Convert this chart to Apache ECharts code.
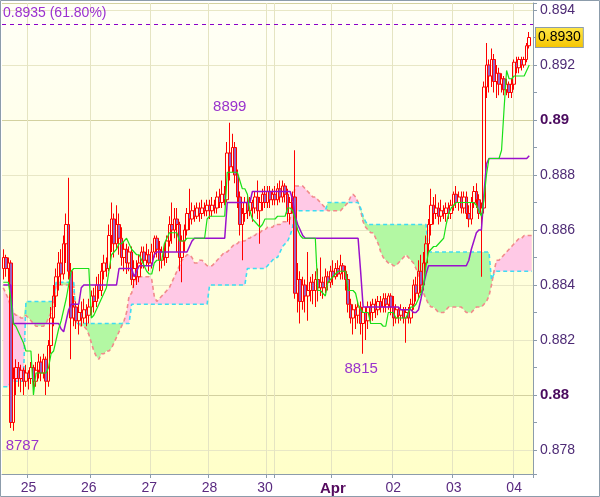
<!DOCTYPE html>
<html><head><meta charset="utf-8">
<script src="https://cdn.jsdelivr.net/npm/echarts@6/dist/echarts.min.js"></script>
<style>html,body{margin:0;padding:0;background:#fff}#c{width:600px;height:497px}</style>
</head><body><div id="c"></div>
<script>
// ---- data ----
const dayLabels = ['25','26','27','28','30','Apr','02','03','04'];
const dayLabelIndex = [10,34,58,82,104,131,155,179,203];
const dayLineIndex = [10,35,59,82,105,108,131,155,179,203];
const boldDayLabels = ['Apr'];
const yLabels = ['0.894','0.892','0.89','0.888','0.886','0.884','0.882','0.88','0.878'];
const boldYLabels = ['0.89','0.88'];
const fibLevel = 0.8935;
const fibText = '0.8935 (61.80%)';
// [open, close, low, high]
const candles = [
[.8846,.8850,.8842,.8853],[.8850,.8846,.8843,.8851],[.8846,.8848,.8841,.8850],[.8848,.8790,.8788,.8849],[.8790,.8806,.8787,.8810],
[.8806,.8810,.8800,.8813],[.8810,.8806,.8803,.8812],[.8806,.8809,.8801,.8811],[.8809,.8805,.8800,.8810],[.8805,.8808,.8803,.8811],
[.8808,.8806,.8802,.8809],[.8806,.8810,.8804,.8812],[.8810,.8805,.8800,.8811],[.8805,.8809,.8803,.8812],[.8809,.8812,.8806,.8815],
[.8812,.8808,.8805,.8814],[.8808,.8813,.8806,.8815],[.8813,.8805,.8800,.8814],[.8805,.8818,.8803,.8820],[.8818,.8828,.8815,.8832],
[.8828,.8836,.8825,.8840],[.8836,.8843,.8832,.8846],[.8843,.8848,.8838,.8852],[.8848,.8844,.8840,.8853],[.8844,.8855,.8842,.8858],
[.8855,.8862,.8848,.8866],[.8862,.8845,.8842,.8879],[.8845,.8828,.8813,.8848],[.8828,.8832,.8825,.8836],[.8832,.8827,.8824,.8834],
[.8827,.8830,.8822,.8833],[.8830,.8828,.8825,.8834],[.8828,.8831,.8826,.8835],[.8831,.8829,.8825,.8833],[.8829,.8832,.8826,.8835],
[.8832,.8836,.8829,.8838],[.8836,.8834,.8830,.8839],[.8834,.8840,.8832,.8843],[.8840,.8838,.8835,.8844],[.8838,.8845,.8836,.8848],
[.8845,.8848,.8842,.8851],[.8848,.8846,.8843,.8850],[.8846,.8858,.8845,.8862],[.8858,.8864,.8852,.8870],[.8864,.8855,.8850,.8866],
[.8855,.8862,.8853,.8869],[.8862,.8857,.8851,.8866],[.8857,.8850,.8847,.8861],[.8850,.8853,.8845,.8856],[.8853,.8848,.8844,.8855],
[.8848,.8852,.8845,.8854],[.8852,.8842,.8840,.8854],[.8842,.8846,.8839,.8849],[.8846,.8843,.8840,.8849],[.8843,.8848,.8841,.8851],
[.8848,.8852,.8846,.8854],[.8852,.8849,.8846,.8854],[.8849,.8851,.8847,.8855],[.8851,.8848,.8845,.8853],[.8848,.8852,.8846,.8855],
[.8852,.8857,.8850,.8858],[.8857,.8853,.8850,.8858],[.8853,.8849,.8845,.8856],[.8849,.8852,.8846,.8854],[.8852,.8850,.8847,.8855],
[.8850,.8856,.8848,.8858],[.8856,.8862,.8854,.8865],[.8862,.8860,.8855,.8870],[.8860,.8864,.8857,.8868],[.8864,.8862,.8852,.8868],
[.8862,.8850,.8845,.8863],[.8850,.8856,.8841,.8858],[.8856,.8860,.8852,.8862],[.8860,.8866,.8858,.8868],[.8866,.8864,.8860,.8875],
[.8864,.8867,.8862,.8870],[.8867,.8865,.8863,.8869],[.8865,.8868,.8864,.8870],[.8868,.8866,.8863,.8870],[.8866,.8868,.8864,.8871],
[.8868,.8867,.8865,.8870],[.8867,.8869,.8865,.8871],[.8869,.8867,.8864,.8871],[.8867,.8869,.8865,.8872],[.8869,.8868,.8866,.8871],
[.8868,.8872,.8866,.8874],[.8872,.8870,.8868,.8875],[.8870,.8873,.8868,.8878],[.8873,.8871,.8869,.8876],[.8871,.8888,.8870,.8892],
[.8888,.8883,.8878,.8899],[.8883,.8890,.8881,.8895],[.8890,.8880,.8877,.8892],[.8880,.8872,.8868,.8882],[.8872,.8862,.8858,.8874],
[.8862,.8866,.8849,.8868],[.8866,.8870,.8863,.8872],[.8870,.8867,.8864,.8873],[.8867,.8870,.8865,.8872],[.8870,.8868,.8863,.8871],
[.8868,.8872,.8866,.8874],[.8872,.8867,.8864,.8878],[.8867,.8870,.8855,.8872],[.8870,.8873,.8867,.8875],[.8873,.8870,.8868,.8876],
[.8870,.8874,.8868,.8876],[.8874,.8871,.8868,.8876],[.8871,.8873,.8869,.8875],[.8873,.8871,.8869,.8876],[.8871,.8875,.8869,.8877],
[.8875,.8872,.8870,.8878],[.8872,.8876,.8870,.8878],[.8876,.8873,.8870,.8877],[.8873,.8866,.8863,.8875],[.8866,.8870,.8862,.8872],
[.8870,.8872,.8866,.8874],[.8872,.8837,.8835,.8889],[.8837,.8842,.8830,.8848],[.8842,.8834,.8826,.8845],[.8834,.8840,.8831,.8843],
[.8840,.8836,.8830,.8842],[.8836,.8838,.8827,.8852],[.8838,.8841,.8834,.8843],[.8841,.8838,.8833,.8844],[.8838,.8842,.8832,.8845],
[.8842,.8839,.8834,.8846],[.8839,.8841,.8836,.8850],[.8841,.8839,.8835,.8843],[.8839,.8843,.8837,.8846],[.8843,.8841,.8838,.8845],
[.8841,.8845,.8839,.8847],[.8845,.8843,.8840,.8849],[.8843,.8846,.8842,.8848],[.8846,.8844,.8843,.8849],[.8844,.8847,.8842,.8851],
[.8847,.8845,.8842,.8848],[.8845,.8842,.8838,.8847],[.8842,.8833,.8830,.8844],[.8833,.8828,.8826,.8835],[.8828,.8831,.8822,.8833],
[.8831,.8829,.8824,.8833],[.8829,.8832,.8826,.8834],[.8832,.8826,.8822,.8834],[.8826,.8830,.8815,.8832],[.8830,.8827,.8820,.8832],
[.8827,.8832,.8824,.8834],[.8832,.8830,.8826,.8834],[.8830,.8833,.8827,.8835],[.8833,.8831,.8828,.8835],[.8831,.8834,.8829,.8836],
[.8834,.8832,.8830,.8836],[.8832,.8835,.8830,.8837],[.8835,.8833,.8830,.8837],[.8833,.8836,.8831,.8837],[.8836,.8832,.8829,.8837],
[.8832,.8828,.8825,.8836],[.8828,.8831,.8826,.8833],[.8831,.8829,.8826,.8832],[.8829,.8831,.8827,.8833],[.8831,.8828,.8826,.8832],
[.8828,.8830,.8819,.8832],[.8830,.8828,.8826,.8832],[.8828,.8833,.8826,.8835],[.8833,.8840,.8831,.8842],[.8840,.8837,.8834,.8843],
[.8837,.8845,.8835,.8849],[.8845,.8840,.8837,.8851],[.8840,.8848,.8838,.8852],[.8848,.8855,.8845,.8858],[.8855,.8862,.8852,.8864],
[.8862,.8869,.8858,.8875],[.8869,.8866,.8862,.8872],[.8866,.8868,.8864,.8873],[.8868,.8865,.8862,.8870],[.8865,.8867,.8863,.8871],
[.8867,.8866,.8864,.8869],[.8866,.8868,.8863,.8870],[.8868,.8866,.8864,.8870],[.8866,.8869,.8864,.8871],[.8869,.8873,.8867,.8874],
[.8873,.8870,.8868,.8876],[.8870,.8872,.8867,.8874],[.8872,.8868,.8866,.8874],[.8868,.8872,.8866,.8874],[.8872,.8866,.8864,.8874],
[.8866,.8864,.8861,.8869],[.8864,.8870,.8862,.8872],[.8870,.8874,.8868,.8876],[.8874,.8871,.8868,.8877],[.8871,.8866,.8864,.8873],
[.8866,.8868,.8843,.8870],[.8868,.8912,.8866,.8914],[.8912,.8920,.8908,.8928],[.8920,.8916,.8910,.8922],[.8916,.8922,.8912,.8926],
[.8922,.8914,.8910,.8924],[.8914,.8917,.8908,.8920],[.8917,.8913,.8909,.8919],[.8913,.8915,.8910,.8917],[.8915,.8911,.8909,.8916],
[.8911,.8913,.8909,.8915],[.8913,.8910,.8908,.8914],[.8910,.8913,.8908,.8915],[.8913,.8921,.8911,.8922],[.8921,.8919,.8917,.8923],
[.8919,.8922,.8917,.8923],[.8922,.8920,.8918,.8923],[.8920,.8922,.8919,.8923],[.8922,.8927,.8921,.8928],[.8927,.8930,.8926,.8932]
];
const tenkan = [
.8841,.8841,.8841,.8835,.8826,.8825,.8823,.8821,.8819,.8816,
.8816,.8816,.8800,.8808,.8808,.8808,.8808,.8808,.8810,.8815,
.8816,.8820,.8824,.8827,.8831,.8835,.8840,.8845,.8846,.8846,
.8846,.8846,.8846,.8846,.8846,.8828,.8829,.8831,.8833,.8835,
.8837,.8839,.8845,.8851,.8852,.8853,.8855,.8855,.8856,.8857,
.8855,.8853,.8852,.8851,.8851,.8849,.8847,.8845,.8844,.8844,
.8848,.8849,.8849,.8849,.8855,.8857,.8859,.8859,.8859,.8859,
.8856,.8856,.8856,.8857,.8857,.8857,.8857,.8857,.8857,.8857,
.8857,.8864,.8865,.8865,.8865,.8865,.8865,.8865,.8865,.8881,
.8881,.8881,.8881,.8881,.8878,.8875,.8875,.8873,.8867,.8864,
.8863,.8862,.8861,.8862,.8864,.8864,.8864,.8864,.8864,.8865,
.8865,.8865,.8865,.8868,.8868,.8867,.8864,.8860,.8858,.8857,
.8857,.8857,.8857,.8857,.8857,.8838,.8838,.8837,.8836,.8841,
.8842,.8843,.8844,.8845,.8845,.8845,.8845,.8838,.8838,.8838,
.8837,.8833,.8831,.8830,.8830,.8830,.8826,.8826,.8826,.8826,
.8826,.8825,.8825,.8830,.8830,.8830,.8828,.8828,.8828,.8828,
.8828,.8830,.8832,.8832,.8833,.8835,.8837,.8840,.8847,.8852,
.8853,.8854,.8854,.8855,.8856,.8857,.8862,.8866,.8868,.8869,
.8870,.8870,.8870,.8870,.8870,.8870,.8870,.8870,.8869,.8867,
.8865,.8871,.8880,.8886,.8886,.8886,.8886,.8886,.8889,.8904,
.8918,.8915,.8915,.8916,.8916,.8916,.8916,.8916,.8918,.8920
];
const kijun = [
.8840,.8840,.8840,.8840,.8826,.8826,.8826,.8826,.8826,.8826,
.8826,.8826,.8826,.8826,.8826,.8826,.8826,.8826,.8826,.8826,
.8826,.8826,.8826,.8824,.8823,.8827,.8831,.8833,.8833,.8833,
.8833,.8839,.8840,.8840,.8840,.8840,.8840,.8840,.8840,.8840,
.8840,.8840,.8840,.8840,.8840,.8840,.8846,.8846,.8846,.8846,
.8846,.8846,.8843,.8845,.8847,.8847,.8847,.8847,.8847,.8847,
.8851,.8852,.8852,.8852,.8852,.8852,.8852,.8852,.8852,.8852,
.8852,.8852,.8852,.8852,.8854,.8856,.8857,.8857,.8857,.8857,
.8857,.8857,.8857,.8857,.8857,.8857,.8857,.8857,.8857,.8870,
.8870,.8870,.8870,.8870,.8870,.8870,.8870,.8870,.8870,.8874,
.8874,.8874,.8874,.8874,.8874,.8874,.8874,.8874,.8874,.8874,
.8874,.8874,.8874,.8874,.8874,.8871,.8865,.8862,.8860,.8858,
.8857,.8857,.8857,.8857,.8857,.8857,.8857,.8857,.8857,.8857,
.8857,.8857,.8857,.8857,.8857,.8857,.8857,.8857,.8857,.8857,
.8857,.8857,.8845,.8832,.8832,.8832,.8832,.8832,.8832,.8832,
.8832,.8832,.8832,.8832,.8832,.8832,.8832,.8832,.8831,.8831,
.8831,.8831,.8831,.8830,.8830,.8831,.8835,.8840,.8844,.8847,
.8847,.8847,.8847,.8847,.8847,.8847,.8847,.8847,.8847,.8847,
.8847,.8847,.8847,.8847,.8847,.8849,.8853,.8856,.8859,.8860,
.8860,.8873,.8884,.8886,.8886,.8886,.8886,.8886,.8886,.8886,
.8886,.8886,.8886,.8886,.8886,.8886,.8886,.8886,.8886,.8887
];
const senkouA = [
.8839,.8837,.8835,.8832,.8830,.8829,.8829,.8828,.8828,.8829,
.8828,.8827,.8826,.8825,.8825,.8825,.8825,.8826,.8828,.8830,
.8833,.8840,.8840,.8840,.8840,.8840,.8840,.8840,.8840,.8826,
.8826,.8825,.8825,.8824,.8822,.8819,.8816,.8814,.8813,.8815,
.8815,.8816,.8816,.8817,.8819,.8821,.8823,.8825,.8827,.8830,
.8836,.8837,.8841,.8843,.8843,.8843,.8843,.8843,.8843,.8842,
.8836,.8834,.8835,.8836,.8837,.8838,.8839,.8841,.8843,.8845,
.8847,.8849,.8850,.8851,.8851,.8850,.8848,.8848,.8849,.8849,
.8848,.8847,.8847,.8847,.8848,.8849,.8850,.8851,.8852,.8852,
.8853,.8854,.8855,.8855,.8856,.8856,.8856,.8857,.8857,.8858,
.8858,.8859,.8859,.8860,.8860,.8861,.8861,.8861,.8862,.8862,
.8862,.8863,.8863,.8863,.8864,.8870,.8876,.8876,.8876,.8876,
.8875,.8874,.8873,.8872,.8872,.8871,.8870,.8869,.8868,.8867,
.8867,.8867,.8867,.8867,.8867,.8868,.8869,.8870,.8872,.8873,
.8872,.8870,.8867,.8863,.8861,.8860,.8859,.8859,.8857,.8855,
.8852,.8850,.8849,.8848,.8848,.8847,.8847,.8848,.8849,.8850,
.8851,.8850,.8849,.8848,.8846,.8844,.8840,.8837,.8835,.8833,
.8832,.8832,.8831,.8830,.8830,.8830,.8831,.8832,.8832,.8832,
.8832,.8832,.8832,.8831,.8830,.8830,.8830,.8831,.8832,.8832,
.8832,.8833,.8834,.8836,.8840,.8845,.8849,.8849,.8850,.8851,
.8852,.8853,.8854,.8855,.8856,.8857,.8857,.8858,.8858,.8858,
.8858
];
const senkouB = [
.8803,.8803,.8803,.8805,.8805,.8805,.8805,.8805,.8805,.8834,
.8834,.8834,.8834,.8834,.8834,.8834,.8834,.8834,.8834,.8834,
.8834,.8841,.8841,.8841,.8841,.8841,.8841,.8841,.8841,.8826,
.8826,.8826,.8826,.8826,.8826,.8826,.8826,.8826,.8826,.8826,
.8826,.8826,.8826,.8826,.8826,.8826,.8826,.8826,.8826,.8826,
.8826,.8833,.8833,.8833,.8833,.8833,.8833,.8833,.8833,.8833,
.8833,.8833,.8833,.8833,.8833,.8833,.8833,.8833,.8833,.8833,
.8833,.8833,.8833,.8833,.8833,.8833,.8833,.8833,.8833,.8833,
.8833,.8833,.8840,.8840,.8840,.8840,.8840,.8840,.8840,.8840,
.8840,.8840,.8840,.8840,.8840,.8840,.8840,.8846,.8846,.8846,
.8846,.8846,.8846,.8846,.8846,.8847,.8848,.8849,.8850,.8850,
.8852,.8854,.8855,.8856,.8858,.8861,.8867,.8867,.8867,.8867,
.8867,.8867,.8867,.8867,.8867,.8867,.8867,.8867,.8867,.8870,
.8870,.8870,.8870,.8870,.8870,.8870,.8870,.8870,.8870,.8870,
.8870,.8870,.8868,.8865,.8863,.8862,.8862,.8862,.8862,.8862,
.8862,.8862,.8862,.8862,.8862,.8862,.8862,.8862,.8862,.8862,
.8862,.8862,.8862,.8862,.8862,.8862,.8862,.8862,.8862,.8852,
.8852,.8852,.8852,.8852,.8852,.8852,.8852,.8852,.8852,.8852,
.8852,.8852,.8852,.8852,.8852,.8852,.8852,.8852,.8852,.8852,
.8852,.8852,.8852,.8852,.8842,.8844,.8845,.8845,.8845,.8845,
.8845,.8845,.8845,.8845,.8845,.8845,.8845,.8845,.8845,.8845,
.8845
];
// annotations: [candle index, price, text]
const annotations = [[90, 0.8899, '8899'], [143, 0.8815, '8815'], [4, 0.8787, '8787']];

// ---- derived for the library ----
const N = senkouA.length;
const categories = Array.from({length: N}, (_, i) => String(i));
const cloudBase = senkouA.map((a, i) => Math.min(a, senkouB[i]));
const cloudPink = senkouA.map((a, i) => Math.max(a - senkouB[i], 0));
const cloudGreen = senkouA.map((a, i) => Math.max(senkouB[i] - a, 0));
const lastClose = candles[candles.length - 1][1];

// ---- styles ----
const FONT = "'Liberation Sans', Arial, sans-serif";
const annOffsets = [[0, -16], [-2, 15], [9, 15]];
const Y_MIN = 0.878 - 24 / 27500, Y_MAX = 0.894 + 7 / 27500;
const axisGray = '#8c9cab';

const chart = echarts.init(document.getElementById('c'), null, {renderer: 'canvas'});
const yBase = {type: 'value', position: 'right', min: Y_MIN, max: Y_MAX, scale: true};
chart.setOption({
  animation: false,
  textStyle: {fontFamily: FONT},
  grid: {left: 2, right: 67, top: 3, bottom: 23, show: true, borderWidth: 0,
    backgroundColor: {type: 'linear', x: 0, y: 0, x2: 0, y2: 1,
      colorStops: [{offset: 0, color: '#fffff7'}, {offset: 1, color: '#ffffc9'}]}},
  xAxis: {
    type: 'category', data: categories, boundaryGap: true,
    axisLine: {show: true, lineStyle: {color: axisGray}},
    axisTick: {show: true, length: 4, lineStyle: {color: axisGray},
      interval: (i) => dayLineIndex.includes(i)},
    splitLine: {show: true, lineStyle: {color: '#e5e4c2', width: 1},
      interval: (i) => dayLineIndex.includes(i)},
    axisLabel: {
      interval: (i) => dayLabelIndex.includes(i),
      margin: 7, fontSize: 14, color: '#5a2a80', fontFamily: FONT,
      formatter: (v, i) => {
        const k = dayLabelIndex.indexOf(Number(v));
        if (k < 0) return '';
        const t = dayLabels[k];
        return boldDayLabels.includes(t) ? '{b|' + t + '}' : t;
      },
      rich: {b: {fontWeight: 'bold', fontSize: 15, color: '#540a5e', fontFamily: FONT}}
    }
  },
  yAxis: [
    Object.assign({}, yBase, {
      minInterval: 0.001, maxInterval: 0.001, splitNumber: 17,
      axisLine: {show: true, lineStyle: {color: axisGray}},
      axisTick: {show: true, length: 4, lineStyle: {color: axisGray}},
      splitLine: {show: false},
      axisLabel: {
        margin: 7, fontSize: 14, color: '#4d2a75', fontFamily: FONT,
        showMinLabel: true, showMaxLabel: true,
        formatter: (v) => {
          const k = Math.round(v * 1000);
          if (Math.abs(v * 1000 - k) > 1e-6) return '';
          const s = yLabels.find(l => Number(l) === k / 1000);
          if (!s) return '';
          return boldYLabels.includes(s) ? '{b|' + s + '}' : s;
        },
        rich: {b: {fontWeight: 'bold', fontSize: 15, color: '#4a0a5e', fontFamily: FONT}}
      }
    }),
    Object.assign({}, yBase, {
      minInterval: 0.002, maxInterval: 0.002, splitNumber: 9,
      axisLine: {show: false}, axisTick: {show: false}, axisLabel: {show: false},
      splitLine: {show: true, lineStyle: {color: '#e8e7c6'}}
    }),
    Object.assign({}, yBase, {
      minInterval: 0.01, maxInterval: 0.01, splitNumber: 2,
      axisLine: {show: false}, axisTick: {show: false}, axisLabel: {show: false},
      splitLine: {show: true, lineStyle: {color: '#d3d1a0'}}
    })
  ],
  graphic: [{type: 'rect', silent: true, z: 100,
    shape: {x: 0.5, y: 0.5, width: 599, height: 496},
    style: {fill: 'none', stroke: axisGray, lineWidth: 1}}],
  series: [
    {name: 'cloudBase', type: 'line', stack: 'cloud', data: cloudBase, symbol: 'none', silent: true,
      lineStyle: {opacity: 0}, z: 1},
    {name: 'cloudPink', type: 'line', stack: 'cloud', data: cloudPink, symbol: 'none', silent: true,
      lineStyle: {opacity: 0}, areaStyle: {color: '#ffc9e6', opacity: 1}, z: 1},
    {name: 'cloudGreen', type: 'line', stack: 'cloud', data: cloudGreen, symbol: 'none', silent: true,
      lineStyle: {opacity: 0}, areaStyle: {color: '#b3f8a3', opacity: 1}, z: 1},
    {name: 'senkouA', type: 'line', data: senkouA, symbol: 'none', silent: true, z: 2,
      lineStyle: {color: '#f28a8a', width: 1.6, type: [4, 3]}},
    {name: 'senkouB', type: 'line', data: senkouB, symbol: 'none', silent: true, z: 2,
      lineStyle: {color: '#3fdcf2', width: 1.6, type: [4, 3]}},
    {name: 'candles', type: 'candlestick', data: candles, barWidth: 3, z: 3,
      itemStyle: {color: 'rgba(0,0,0,0)', color0: '#9a62c0', borderColor: '#ff0000', borderColor0: '#ff0000', borderWidth: 1},
      markLine: {
        silent: true, symbol: 'none', animation: false, precision: 5,
        data: [
          {yAxis: fibLevel, lineStyle: {color: '#8a00c8', width: 1, type: [4, 4]},
            label: {show: true, position: 'insideStartTop', formatter: fibText, color: '#9b30d0',
              fontSize: 14, fontFamily: FONT, distance: [1, 4]}},
          {yAxis: lastClose, lineStyle: {color: 'rgba(0,0,0,0)', width: 1, opacity: 1},
            label: {show: true, position: 'end', formatter: lastClose.toFixed(4), color: '#000',
              opacity: 1, fontSize: 14, fontFamily: FONT, distance: 3, padding: [3, 2, 2, 2],
              borderColor: '#8c9cab', borderWidth: 1,
              backgroundColor: {type: 'linear', x: 0, y: 0, x2: 0, y2: 1,
                colorStops: [{offset: 0, color: '#ffe84a'}, {offset: 1, color: '#f5c400'}]}}}
        ]
      },
      markPoint: {
        silent: true, animation: false, symbol: 'circle', symbolSize: 1,
        itemStyle: {color: 'rgba(0,0,0,0)'},
        data: annotations.map((a, k) => ({coord: [a[0], a[1]], value: a[2],
          label: {show: true, position: 'inside', offset: annOffsets[k], formatter: a[2],
            color: '#9933cc', fontSize: 15, fontFamily: FONT}}))
      }
    },
    {name: 'kijun', type: 'line', data: kijun, symbol: 'none', silent: true, z: 4,
      lineStyle: {color: '#9a10cc', width: 1.5}},
    {name: 'tenkan', type: 'line', data: tenkan, symbol: 'none', silent: true, z: 5,
      lineStyle: {color: '#18e018', width: 1.2}}
  ]
});
</script></body></html>
